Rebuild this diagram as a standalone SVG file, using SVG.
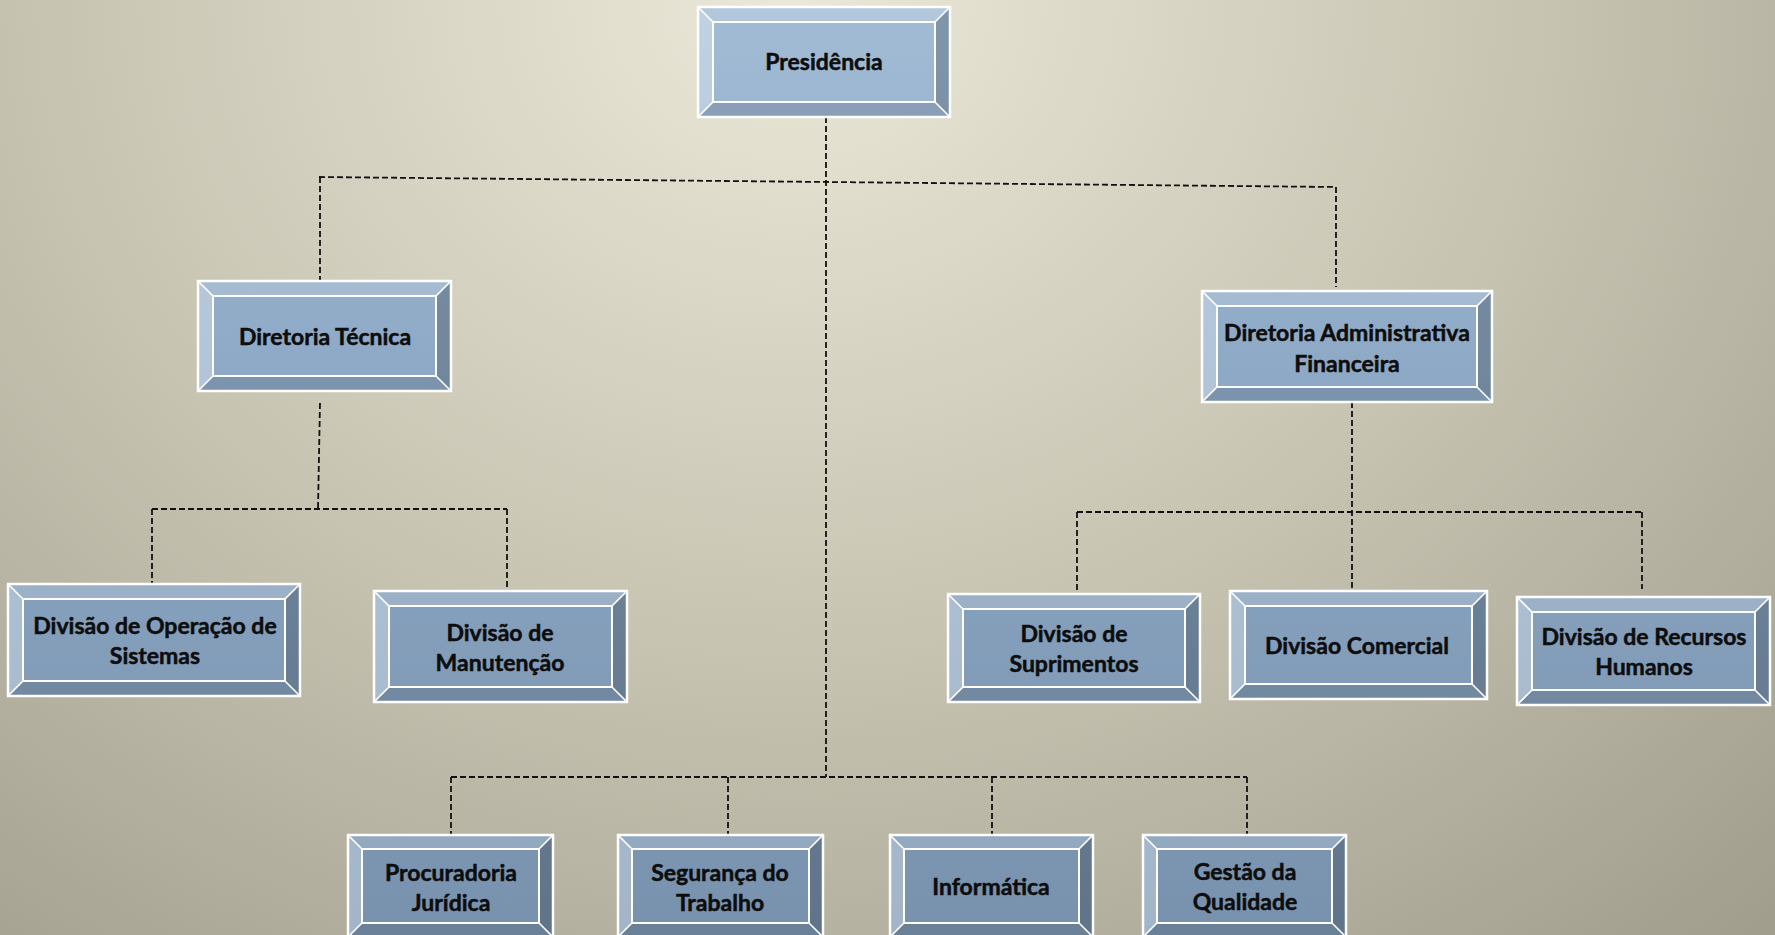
<svg xmlns="http://www.w3.org/2000/svg" width="1775" height="935" viewBox="0 0 1775 935">
<defs>
<radialGradient id="bg" gradientUnits="userSpaceOnUse" cx="790" cy="0" r="1250" gradientTransform="translate(790 0) scale(1.15 1) translate(-790 0)">
<stop offset="0" stop-color="#ebe8d9"/>
<stop offset="0.5" stop-color="#c9c5b3"/>
<stop offset="1" stop-color="#a29e8e"/>
</radialGradient>
<linearGradient id="face" gradientUnits="userSpaceOnUse" x1="0" y1="0" x2="0" y2="935">
<stop offset="0" stop-color="#a2bcd6"/>
<stop offset="0.4" stop-color="#8ea9c5"/>
<stop offset="1" stop-color="#7892ae"/>
</linearGradient>
</defs>
<style>
.base{fill:url(#face);}
.bt{fill:#ffffff;fill-opacity:0.18;}
.bl{fill:#ffffff;fill-opacity:0.32;}
.br{fill:#000000;fill-opacity:0.2;}
.bb{fill:#000000;fill-opacity:0.12;}
.ol{fill:none;stroke:#ffffff;stroke-width:2.5;}
.il{fill:none;stroke:#ffffff;stroke-width:2;}
.dg{stroke:#ffffff;stroke-width:1.6;}
.t{font-family:Lato,"Open Sans","Liberation Sans",sans-serif;font-weight:700;font-size:23px;fill:#0d0d0d;stroke:#0d0d0d;stroke-width:0.5;text-anchor:middle;}
.c{fill:none;stroke:#111111;stroke-width:1.8;stroke-dasharray:6 3;}
</style>
<rect width="1775" height="935" fill="url(#bg)"/>
<g id="connectors">
<path class="c" d="M826,117 V777"/>
<path class="c" d="M319,177 L1336,187"/>
<path class="c" d="M320,177 V281"/>
<path class="c" d="M1336,187 V287"/>
<path class="c" d="M320,403 L318,509"/>
<path class="c" d="M152,509 H507"/>
<path class="c" d="M152,509 V586"/>
<path class="c" d="M507,509 V591"/>
<path class="c" d="M1352,402 V592"/>
<path class="c" d="M1077,512 H1642"/>
<path class="c" d="M1077,512 V594"/>
<path class="c" d="M1642,512 V589"/>
<path class="c" d="M451,777 H1247"/>
<path class="c" d="M451,777 V835"/>
<path class="c" d="M728,777 V835"/>
<path class="c" d="M992,777 V835"/>
<path class="c" d="M1247,777 V835"/>
</g>
<g id="presidencia">
<rect class="base" x="698" y="7" width="252" height="110"/>
<polygon class="bt" points="698,7 950,7 935,22 713,22"/>
<polygon class="bb" points="698,117 950,117 935,102 713,102"/>
<polygon class="bl" points="698,7 713,22 713,102 698,117"/>
<polygon class="br" points="950,7 935,22 935,102 950,117"/>
<path class="dg" d="M698,7 L713,22 M950,7 L935,22 M698,117 L713,102 M950,117 L935,102"/>
<rect class="il" x="713" y="22" width="222" height="80"/>
<rect class="ol" x="698" y="7" width="252" height="110"/>
<text class="t" x="824" y="70">Presidência</text>
</g>
<g id="diretoria-tecnica">
<rect class="base" x="198" y="281" width="253" height="110"/>
<polygon class="bt" points="198,281 451,281 436,296 213,296"/>
<polygon class="bb" points="198,391 451,391 436,376 213,376"/>
<polygon class="bl" points="198,281 213,296 213,376 198,391"/>
<polygon class="br" points="451,281 436,296 436,376 451,391"/>
<path class="dg" d="M198,281 L213,296 M451,281 L436,296 M198,391 L213,376 M451,391 L436,376"/>
<rect class="il" x="213" y="296" width="223" height="80"/>
<rect class="ol" x="198" y="281" width="253" height="110"/>
<text class="t" x="325" y="345">Diretoria Técnica</text>
</g>
<g id="diretoria-administrativa">
<rect class="base" x="1202" y="291" width="290" height="111"/>
<polygon class="bt" points="1202,291 1492,291 1477,306 1217,306"/>
<polygon class="bb" points="1202,402 1492,402 1477,387 1217,387"/>
<polygon class="bl" points="1202,291 1217,306 1217,387 1202,402"/>
<polygon class="br" points="1492,291 1477,306 1477,387 1492,402"/>
<path class="dg" d="M1202,291 L1217,306 M1492,291 L1477,306 M1202,402 L1217,387 M1492,402 L1477,387"/>
<rect class="il" x="1217" y="306" width="260" height="81"/>
<rect class="ol" x="1202" y="291" width="290" height="111"/>
<text class="t" x="1347" y="341">Diretoria Administrativa</text>
<text class="t" x="1347" y="372">Financeira</text>
</g>
<g id="divisao-operacao">
<rect class="base" x="8" y="584" width="292" height="112"/>
<polygon class="bt" points="8,584 300,584 285,599 23,599"/>
<polygon class="bb" points="8,696 300,696 285,681 23,681"/>
<polygon class="bl" points="8,584 23,599 23,681 8,696"/>
<polygon class="br" points="300,584 285,599 285,681 300,696"/>
<path class="dg" d="M8,584 L23,599 M300,584 L285,599 M8,696 L23,681 M300,696 L285,681"/>
<rect class="il" x="23" y="599" width="262" height="82"/>
<rect class="ol" x="8" y="584" width="292" height="112"/>
<text class="t" x="155" y="634">Divisão de Operação de</text>
<text class="t" x="155" y="664">Sistemas</text>
</g>
<g id="divisao-manutencao">
<rect class="base" x="374" y="591" width="253" height="111"/>
<polygon class="bt" points="374,591 627,591 612,606 389,606"/>
<polygon class="bb" points="374,702 627,702 612,687 389,687"/>
<polygon class="bl" points="374,591 389,606 389,687 374,702"/>
<polygon class="br" points="627,591 612,606 612,687 627,702"/>
<path class="dg" d="M374,591 L389,606 M627,591 L612,606 M374,702 L389,687 M627,702 L612,687"/>
<rect class="il" x="389" y="606" width="223" height="81"/>
<rect class="ol" x="374" y="591" width="253" height="111"/>
<text class="t" x="500" y="641">Divisão de</text>
<text class="t" x="500" y="671">Manutenção</text>
</g>
<g id="divisao-suprimentos">
<rect class="base" x="948" y="594" width="252" height="108"/>
<polygon class="bt" points="948,594 1200,594 1185,609 963,609"/>
<polygon class="bb" points="948,702 1200,702 1185,687 963,687"/>
<polygon class="bl" points="948,594 963,609 963,687 948,702"/>
<polygon class="br" points="1200,594 1185,609 1185,687 1200,702"/>
<path class="dg" d="M948,594 L963,609 M1200,594 L1185,609 M948,702 L963,687 M1200,702 L1185,687"/>
<rect class="il" x="963" y="609" width="222" height="78"/>
<rect class="ol" x="948" y="594" width="252" height="108"/>
<text class="t" x="1074" y="642">Divisão de</text>
<text class="t" x="1074" y="672">Suprimentos</text>
</g>
<g id="divisao-comercial">
<rect class="base" x="1230" y="591" width="257" height="108"/>
<polygon class="bt" points="1230,591 1487,591 1472,606 1245,606"/>
<polygon class="bb" points="1230,699 1487,699 1472,684 1245,684"/>
<polygon class="bl" points="1230,591 1245,606 1245,684 1230,699"/>
<polygon class="br" points="1487,591 1472,606 1472,684 1487,699"/>
<path class="dg" d="M1230,591 L1245,606 M1487,591 L1472,606 M1230,699 L1245,684 M1487,699 L1472,684"/>
<rect class="il" x="1245" y="606" width="227" height="78"/>
<rect class="ol" x="1230" y="591" width="257" height="108"/>
<text class="t" x="1357" y="654">Divisão Comercial</text>
</g>
<g id="divisao-rh">
<rect class="base" x="1517" y="597" width="253" height="108"/>
<polygon class="bt" points="1517,597 1770,597 1755,612 1532,612"/>
<polygon class="bb" points="1517,705 1770,705 1755,690 1532,690"/>
<polygon class="bl" points="1517,597 1532,612 1532,690 1517,705"/>
<polygon class="br" points="1770,597 1755,612 1755,690 1770,705"/>
<path class="dg" d="M1517,597 L1532,612 M1770,597 L1755,612 M1517,705 L1532,690 M1770,705 L1755,690"/>
<rect class="il" x="1532" y="612" width="223" height="78"/>
<rect class="ol" x="1517" y="597" width="253" height="108"/>
<text class="t" x="1644" y="645">Divisão de Recursos</text>
<text class="t" x="1644" y="675">Humanos</text>
</g>
<g id="procuradoria">
<rect class="base" x="348" y="835" width="205" height="102"/>
<polygon class="bt" points="348,835 553,835 539,849 362,849"/>
<polygon class="bb" points="348,937 553,937 539,923 362,923"/>
<polygon class="bl" points="348,835 362,849 362,923 348,937"/>
<polygon class="br" points="553,835 539,849 539,923 553,937"/>
<path class="dg" d="M348,835 L362,849 M553,835 L539,849 M348,937 L362,923 M553,937 L539,923"/>
<rect class="il" x="362" y="849" width="177" height="74"/>
<rect class="ol" x="348" y="835" width="205" height="102"/>
<text class="t" x="451" y="881">Procuradoria</text>
<text class="t" x="451" y="911">Jurídica</text>
</g>
<g id="seguranca">
<rect class="base" x="618" y="835" width="205" height="102"/>
<polygon class="bt" points="618,835 823,835 809,849 632,849"/>
<polygon class="bb" points="618,937 823,937 809,923 632,923"/>
<polygon class="bl" points="618,835 632,849 632,923 618,937"/>
<polygon class="br" points="823,835 809,849 809,923 823,937"/>
<path class="dg" d="M618,835 L632,849 M823,835 L809,849 M618,937 L632,923 M823,937 L809,923"/>
<rect class="il" x="632" y="849" width="177" height="74"/>
<rect class="ol" x="618" y="835" width="205" height="102"/>
<text class="t" x="720" y="881">Segurança do</text>
<text class="t" x="720" y="911">Trabalho</text>
</g>
<g id="informatica">
<rect class="base" x="890" y="835" width="203" height="102"/>
<polygon class="bt" points="890,835 1093,835 1079,849 904,849"/>
<polygon class="bb" points="890,937 1093,937 1079,923 904,923"/>
<polygon class="bl" points="890,835 904,849 904,923 890,937"/>
<polygon class="br" points="1093,835 1079,849 1079,923 1093,937"/>
<path class="dg" d="M890,835 L904,849 M1093,835 L1079,849 M890,937 L904,923 M1093,937 L1079,923"/>
<rect class="il" x="904" y="849" width="175" height="74"/>
<rect class="ol" x="890" y="835" width="203" height="102"/>
<text class="t" x="991" y="895">Informática</text>
</g>
<g id="gestao-qualidade">
<rect class="base" x="1143" y="835" width="203" height="102"/>
<polygon class="bt" points="1143,835 1346,835 1332,849 1157,849"/>
<polygon class="bb" points="1143,937 1346,937 1332,923 1157,923"/>
<polygon class="bl" points="1143,835 1157,849 1157,923 1143,937"/>
<polygon class="br" points="1346,835 1332,849 1332,923 1346,937"/>
<path class="dg" d="M1143,835 L1157,849 M1346,835 L1332,849 M1143,937 L1157,923 M1346,937 L1332,923"/>
<rect class="il" x="1157" y="849" width="175" height="74"/>
<rect class="ol" x="1143" y="835" width="203" height="102"/>
<text class="t" x="1245" y="880">Gestão da</text>
<text class="t" x="1245" y="910">Qualidade</text>
</g>
</svg>
